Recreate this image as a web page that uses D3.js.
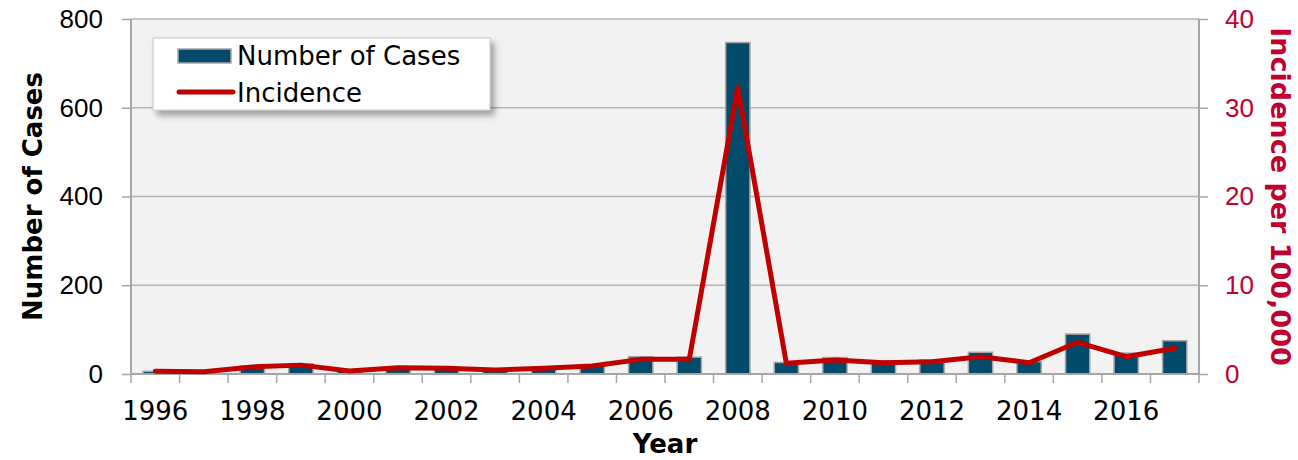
<!DOCTYPE html>
<html>
<head>
<meta charset="utf-8">
<script src="https://cdn.jsdelivr.net/npm/d3@7"></script>
<style>
  body { margin: 0; background: #fff; }
  svg { display: block; font-family: "DejaVu Sans", Verdana, sans-serif; }
</style>
</head>
<body>
<div id="chart"></div>
<script>
// data
var years = [1996, 1997, 1998, 1999, 2000, 2001, 2002, 2003, 2004, 2005, 2006,
             2007, 2008, 2009, 2010, 2011, 2012, 2013, 2014, 2015, 2016, 2017];
var cases = [6, 5, 18, 23, 8, 16, 15, 10, 15, 21, 39,
             38, 747, 26, 37, 30, 32, 49, 28, 90, 47, 75];
var incidence = [0.3, 0.25, 0.8, 1.0, 0.35, 0.7, 0.65, 0.45, 0.65, 0.9, 1.65,
                 1.65, 32.3, 1.2, 1.58, 1.27, 1.39, 1.95, 1.27, 3.57, 1.95, 2.9];
var leftTicks = [0, 200, 400, 600, 800];
var rightTicks = [0, 10, 20, 30, 40];
var xLabels = [1996, 1998, 2000, 2002, 2004, 2006, 2008, 2010, 2012, 2014, 2016];

var W = 1298, H = 460;
var margin = { top: 19, right: 99, bottom: 86, left: 131 },
    width = W - margin.left - margin.right,
    height = H - margin.top - margin.bottom;

var svg = d3.select("#chart").append("svg")
  .attr("width", W)
  .attr("height", H);

var defs = svg.append("defs");
var f = defs.append("filter").attr("id", "shadow")
  .attr("x", "-5%").attr("y", "-10%").attr("width", "115%").attr("height", "140%");
f.append("feDropShadow").attr("dx", 4).attr("dy", 5).attr("stdDeviation", 3)
  .attr("flood-color", "#000").attr("flood-opacity", 0.35);

var g = svg.append("g")
  .attr("transform", "translate(" + margin.left + "," + margin.top + ")");

// scales
var x = d3.scaleBand().domain(years).range([0, width]).paddingInner(0).paddingOuter(0);
var y = d3.scaleLinear().domain([0, 800]).range([height, 0]);
var y2 = d3.scaleLinear().domain([0, 40]).range([height, 0]);

// plot background
g.append("rect")
  .attr("width", width)
  .attr("height", height)
  .attr("fill", "#f2f2f2");

// gridlines
g.selectAll(".grid").data(leftTicks).enter().append("line")
  .attr("x1", 0).attr("x2", width)
  .attr("y1", function (d) { return y(d); })
  .attr("y2", function (d) { return y(d); })
  .attr("stroke", "#b4b4b4")
  .attr("stroke-width", 1.5);

// right border
g.append("line")
  .attr("x1", width).attr("x2", width)
  .attr("y1", 0).attr("y2", height)
  .attr("stroke", "#a6a6a6").attr("stroke-width", 2);

// bars
var bw = x.bandwidth() * 0.5;
g.selectAll(".bar").data(years).enter().append("rect")
  .attr("x", function (d) { return x(d) + (x.bandwidth() - bw) / 2; })
  .attr("y", function (d, i) { return y(cases[i]); })
  .attr("width", bw)
  .attr("height", function (d, i) { return height - y(cases[i]); })
  .attr("fill", "#024a69")
  .attr("stroke", "#a6a6a6")
  .attr("stroke-width", 1.5);

// left axis
var leftAxis = g.append("g")
  .call(d3.axisLeft(y).tickValues(leftTicks).tickSize(9).tickPadding(19));
leftAxis.select(".domain").attr("stroke", "#a6a6a6").attr("stroke-width", 2)
  .attr("d", "M0," + height + "V0");
leftAxis.selectAll(".tick line").attr("stroke", "#a6a6a6").attr("stroke-width", 1.5);
leftAxis.selectAll(".tick text").attr("fill", "#000").style("font-size", "26px");

// right axis
var rightAxis = g.append("g")
  .attr("transform", "translate(" + width + ",0)")
  .call(d3.axisRight(y2).tickValues(rightTicks).tickSize(9).tickPadding(17));
rightAxis.select(".domain").remove();
rightAxis.selectAll(".tick line").attr("stroke", "#a6a6a6").attr("stroke-width", 1.5);
rightAxis.selectAll(".tick text").attr("fill", "#c0002f").style("font-size", "26px");

// bottom axis: ticks between categories, labels every second year
var bottom = g.append("g").attr("transform", "translate(0," + height + ")");
bottom.append("line")
  .attr("x1", 0).attr("x2", width)
  .attr("stroke", "#a6a6a6").attr("stroke-width", 2);
var bounds = years.map(function (d) { return x(d); }).concat([width]);
bottom.selectAll(".xt").data(bounds).enter().append("line")
  .attr("x1", function (d) { return d; })
  .attr("x2", function (d) { return d; })
  .attr("y1", 0).attr("y2", 9)
  .attr("stroke", "#a6a6a6").attr("stroke-width", 1.5);
bottom.selectAll(".xl").data(xLabels).enter().append("text")
  .attr("x", function (d) { return x(d) + x.bandwidth() / 2; })
  .attr("y", 46)
  .attr("text-anchor", "middle")
  .style("font-size", "26px")
  .text(function (d) { return d; });

// incidence line
g.append("path")
  .datum(years)
  .attr("fill", "none")
  .attr("stroke", "#c00000")
  .attr("stroke-width", 5)
  .attr("stroke-linejoin", "round")
  .attr("stroke-linecap", "round")
  .attr("d", d3.line()
    .x(function (d) { return x(d) + x.bandwidth() / 2; })
    .y(function (d, i) { return y2(incidence[i]); }));

// axis titles
svg.append("text")
  .attr("transform", "translate(42," + (margin.top + height / 2) + ") rotate(-90)")
  .attr("text-anchor", "middle")
  .style("font-size", "26px")
  .style("font-weight", "bold")
  .text("Number of Cases");

svg.append("text")
  .attr("transform", "translate(1271," + (margin.top + height / 2) + ") rotate(90)")
  .attr("text-anchor", "middle")
  .style("font-size", "27px")
  .style("font-weight", "bold")
  .attr("fill", "#c0002f")
  .text("Incidence per 100,000");

svg.append("text")
  .attr("x", 665)
  .attr("y", 453)
  .attr("text-anchor", "middle")
  .style("font-size", "26px")
  .style("font-weight", "bold")
  .text("Year");

// legend
var lg = svg.append("g").attr("transform", "translate(153,38)");
lg.append("rect")
  .attr("width", 337).attr("height", 72)
  .attr("fill", "#fff")
  .attr("stroke", "#c8c8c8")
  .attr("filter", "url(#shadow)");
lg.append("rect")
  .attr("x", 25).attr("y", 11).attr("width", 53).attr("height", 14)
  .attr("fill", "#024a69").attr("stroke", "#a6a6a6").attr("stroke-width", 1.5);
lg.append("text")
  .attr("x", 84).attr("y", 27)
  .style("font-size", "26px")
  .text("Number of Cases");
lg.append("line")
  .attr("x1", 26).attr("x2", 80).attr("y1", 54).attr("y2", 54)
  .attr("stroke", "#c00000").attr("stroke-width", 5).attr("stroke-linecap", "round");
lg.append("text")
  .attr("x", 84).attr("y", 64)
  .style("font-size", "26px")
  .text("Incidence");
</script>
</body>
</html>
